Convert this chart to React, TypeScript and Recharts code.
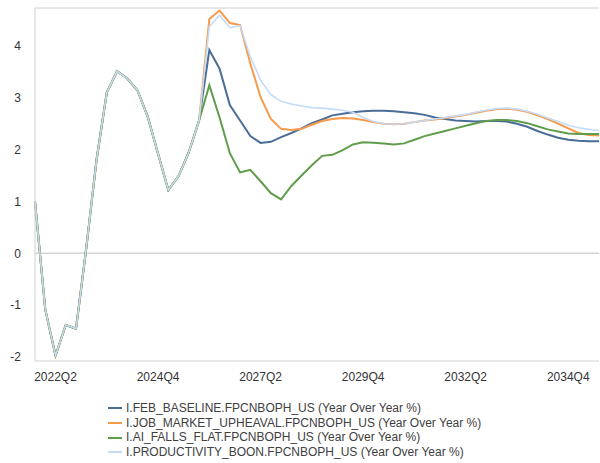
import React from "react";
import {
  LineChart,
  Line,
  XAxis,
  YAxis,
  ReferenceLine,
  Legend,
} from "recharts";

// quarterly categories, 2021Q4 .. 2035Q3
const QUARTERS = [
  "2021Q4",
  "2022Q1", "2022Q2", "2022Q3", "2022Q4",
  "2023Q1", "2023Q2", "2023Q3", "2023Q4",
  "2024Q1", "2024Q2", "2024Q3", "2024Q4",
  "2025Q1", "2025Q2", "2025Q3", "2025Q4",
  "2026Q1", "2026Q2", "2026Q3", "2026Q4",
  "2027Q1", "2027Q2", "2027Q3", "2027Q4",
  "2028Q1", "2028Q2", "2028Q3", "2028Q4",
  "2029Q1", "2029Q2", "2029Q3", "2029Q4",
  "2030Q1", "2030Q2", "2030Q3", "2030Q4",
  "2031Q1", "2031Q2", "2031Q3", "2031Q4",
  "2032Q1", "2032Q2", "2032Q3", "2032Q4",
  "2033Q1", "2033Q2", "2033Q3", "2033Q4",
  "2034Q1", "2034Q2", "2034Q3", "2034Q4",
  "2035Q1", "2035Q2", "2035Q3",
];

const TICK_LABELS = ["2022Q2", "2024Q4", "2027Q2", "2029Q4", "2032Q2", "2034Q4"];
const Y_TICKS = [-2, -1, 0, 1, 2, 3, 4];
const Y_DOMAIN: [number, number] = [-2.075, 4.73];

// history shared by all scenarios (2021Q4 .. 2025Q4)
const HISTORY = [1.0, -1.08, -1.97, -1.38, -1.45, 0.1, 1.8, 3.1, 3.51, 3.37, 3.14, 2.63, 1.92, 1.22, 1.49, 1.95, 2.56];

// scenarios from 2026Q1 on
const FEB_BASELINE = [
  3.92, 3.56, 2.86, 2.56, 2.26, 2.13, 2.15, 2.24, 2.32, 2.41, 2.51, 2.58, 2.66,
  2.69, 2.72, 2.74, 2.75, 2.75, 2.74, 2.72, 2.7, 2.67, 2.62, 2.59, 2.56, 2.55,
  2.54, 2.55, 2.55, 2.54, 2.5, 2.44, 2.36, 2.29, 2.23, 2.19, 2.17, 2.16, 2.16,
];
const JOB_MARKET_UPHEAVAL = [
  4.52, 4.68, 4.44, 4.4, 3.66, 3.01, 2.59, 2.4, 2.38, 2.4, 2.48, 2.55, 2.59,
  2.61, 2.6, 2.57, 2.53, 2.5, 2.49, 2.5, 2.53, 2.56, 2.58, 2.61, 2.64, 2.67,
  2.71, 2.75, 2.78, 2.79, 2.77, 2.73, 2.66, 2.59, 2.5, 2.41, 2.32, 2.28, 2.27,
];
const AI_FALLS_FLAT = [
  3.24, 2.62, 1.93, 1.56, 1.61, 1.39, 1.16, 1.04, 1.3, 1.5, 1.7, 1.88, 1.9,
  1.99, 2.1, 2.14, 2.13, 2.12, 2.1, 2.12, 2.19, 2.26, 2.31, 2.36, 2.41, 2.46,
  2.51, 2.55, 2.57, 2.57, 2.55, 2.51, 2.45, 2.39, 2.35, 2.31, 2.3, 2.3, 2.3,
];
const PRODUCTIVITY_BOON = [
  4.37, 4.59, 4.35, 4.39, 3.79, 3.34, 3.06, 2.93, 2.88, 2.84, 2.81, 2.8, 2.78,
  2.76, 2.72, 2.62, 2.54, 2.5, 2.49, 2.5, 2.53, 2.56, 2.59, 2.62, 2.65, 2.68,
  2.72, 2.76, 2.79, 2.8, 2.78, 2.74, 2.68, 2.61, 2.54, 2.47, 2.42, 2.39, 2.37,
];

const SERIES = [
  { key: "base", name: "I.FEB_BASELINE.FPCNBOPH_US (Year Over Year %)", color: "#4a6d97", width: 2, values: FEB_BASELINE },
  { key: "job", name: "I.JOB_MARKET_UPHEAVAL.FPCNBOPH_US (Year Over Year %)", color: "#f79a4a", width: 2, values: JOB_MARKET_UPHEAVAL },
  { key: "ai", name: "I.AI_FALLS_FLAT.FPCNBOPH_US (Year Over Year %)", color: "#5f9d4b", width: 2, values: AI_FALLS_FLAT },
  { key: "prod", name: "I.PRODUCTIVITY_BOON.FPCNBOPH_US (Year Over Year %)", color: "#c5dbf6", width: 1.6, values: PRODUCTIVITY_BOON },
];

const data = QUARTERS.map((q, i) => {
  const row: any = { q };
  SERIES.forEach((s) => {
    row[s.key] = i < HISTORY.length ? HISTORY[i] : s.values[i - HISTORY.length];
  });
  return row;
});

const FONT = '"Liberation Sans", Arial, sans-serif';

// legend kept in series order (recharts would sort it by name)
const LegendList = () => (
  <div style={{ fontFamily: FONT, fontSize: 12, color: "#404040", lineHeight: "14.7px" }}>
    {SERIES.map((s) => (
      <div key={s.key} style={{ display: "flex", alignItems: "center", whiteSpace: "nowrap" }}>
        <span style={{ display: "inline-block", width: 14, height: 2, background: s.color, marginRight: 4 }} />
        {s.name}
      </div>
    ))}
  </div>
);

export default function App() {
  return (
    <div style={{ width: 600, height: 463, fontFamily: FONT }}>
      {/* drop the default body margin so the chart can use the whole page */}
      <style>{"body{margin:0}"}</style>
      <LineChart width={600} height={463} data={data} margin={{ top: 8, right: 1, left: 8, bottom: 0 }}>
        <XAxis
          dataKey="q"
          height={102}
          interval={0}
          tickLine={false}
          tickSize={0}
          tickMargin={11}
          axisLine={{ stroke: "#d0d0d0" }}
          tick={{ fill: "#333", fontSize: 12 }}
          tickFormatter={(v) => (TICK_LABELS.includes(v) ? v : "")}
        />
        <YAxis
          width={27}
          domain={Y_DOMAIN}
          ticks={Y_TICKS}
          allowDataOverflow
          tickLine={false}
          tickSize={0}
          tickMargin={14}
          axisLine={{ stroke: "#d0d0d0" }}
          tick={{ fill: "#333", fontSize: 12 }}
        />
        <ReferenceLine y={0} stroke="#d4d4d4" strokeWidth={1.5} />
        <ReferenceLine y={Y_DOMAIN[1]} stroke="#d0d0d0" />
        {SERIES.map((s) => (
          <Line
            key={s.key}
            type="linear"
            dataKey={s.key}
            name={s.name}
            stroke={s.color}
            strokeWidth={s.width}
            dot={false}
            activeDot={false}
            isAnimationActive={false}
          />
        ))}
        <Legend
          layout="horizontal"
          align="center"
          verticalAlign="middle"
          content={<LegendList />}
          wrapperStyle={{ left: 108, top: 401, width: "auto" }}
        />
      </LineChart>
    </div>
  );
}
